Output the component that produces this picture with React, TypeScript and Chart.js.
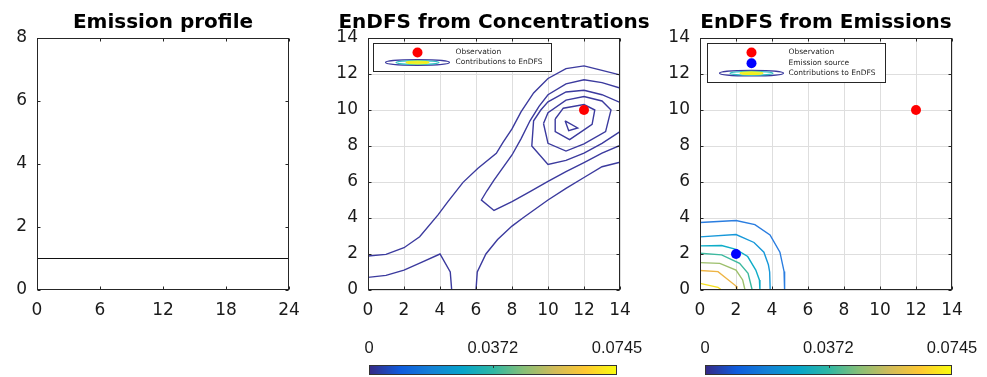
import React, { useEffect, useRef } from 'react';
import { Chart, registerables } from 'chart.js';

Chart.register(...registerables);

type Pt = [number, number];

// ---------------- data ----------------
const profileHours: number[] = [0, 6, 12, 18, 24];
const profileEmission: number[] = [1, 1, 1, 1, 1];

const observationPoint: Pt = [12, 10];
const emissionSourcePoint: Pt = [2, 2];

// EnDFS from Concentrations: contour polylines
const concLevel1Upper: Pt[] = [[0, 1.89], [1, 1.98], [2, 2.35], [2.87, 2.96], [3.89, 4.17], [4.44, 4.91], [5.28, 5.98], [6.11, 6.76], [7.13, 7.59], [7.5, 8.2], [8, 8.95], [8.5, 9.9], [9.2, 10.95], [10, 11.75], [11, 12.3], [12, 12.45], [13, 12.2], [14, 11.95]];
const concLevel1Lower: Pt[] = [[6, 0], [6.07, 1.0], [6.55, 2.0], [7.2, 2.8], [8, 3.55], [8.6, 4.0], [10, 5.0], [11, 5.65], [12, 6.25], [13, 6.85], [14, 7.1]];
const concLevel1Corner: Pt[] = [[0, 0.7], [1, 0.81], [2, 1.1], [3, 1.55], [4, 2.0], [4.57, 1.0], [4.65, 0]];
const concLevel2: Pt[] = [[14, 8.03], [13, 7.6], [12, 7.08], [11, 6.58], [10, 6.03], [9, 5.47], [8, 4.91], [7, 4.42], [6.3, 5.0], [6.6, 5.5], [7, 6.1], [8, 7.5], [8.5, 8.4], [9, 9.4], [9.5, 10.2], [10, 10.85], [11, 11.45], [12, 11.68], [13, 11.52], [14, 11.22]];
const concLevel3: Pt[] = [[14, 10.42], [13, 10.85], [12, 11.1], [11, 11.0], [10, 10.45], [9.6, 10.0], [9.2, 9.4], [9.1, 8.0], [10, 6.97], [11, 7.2], [12, 7.6], [13, 8.15], [14, 8.8]];
const concLevel4: Pt[] = [[9.75, 9.25], [10, 9.85], [11, 10.55], [12, 10.75], [13, 10.5], [13.5, 10.0], [13.2, 8.8], [12, 8.12], [11, 7.72], [10, 8.15], [9.75, 9.25]];
const concLevel5: Pt[] = [[10.4, 9.5], [10.85, 10.1], [12, 10.3], [12.6, 10.0], [12.45, 9.2], [12, 8.9], [11.2, 8.35], [10.4, 8.8], [10.4, 9.5]];
const concLevel6: Pt[] = [[10.95, 9.4], [11.65, 9.0], [11.15, 8.85], [10.95, 9.4]];

// EnDFS from Emissions: contour polylines (outer to inner)
const emisLevel1: Pt[] = [[0, 3.75], [2, 3.86], [3.05, 3.63], [3.89, 3.06], [4.44, 2.1], [4.67, 1.03], [4.7, 0]];
const emisLevel2: Pt[] = [[0, 2.95], [2, 3.08], [3, 2.64], [3.55, 2.1], [3.8, 1.4], [3.87, 1.0], [3.9, 0]];
const emisLevel3: Pt[] = [[0, 2.45], [1.2, 2.47], [2, 2.26], [2.65, 1.86], [3.1, 1.11], [3.3, 0.56], [3.33, 0]];
const emisLevel4: Pt[] = [[0, 2.04], [1.2, 1.95], [2.2, 1.48], [2.67, 0.93], [2.9, 0]];
const emisLevel5: Pt[] = [[0, 1.52], [1.1, 1.48], [2, 1.11], [2.37, 0.56], [2.5, 0]];
const emisLevel6: Pt[] = [[0, 1.08], [1, 1.02], [2, 0.22], [2.05, 0]];
const emisLevel7: Pt[] = [[0, 0.37], [1, 0.15], [1.2, 0]];

const colorbarTicks: number[] = [0, 0.0372, 0.0745];
const colorbarLabels: string[] = ['0', '0.0372', '0.0745'];

// ---------------- styles ----------------
const FONT = "'DejaVu Sans', sans-serif";
const W = 987;
const H = 377;
const AXIS_W = 30;
const AXIS_H = 30;
const FRAME = '#262626';
const CONC_COLOR = '#3b3a9e';
const EMIS_COLORS = ['#2a7de0', '#1798d9', '#0fadc8', '#3cb99f', '#9cbf6b', '#eeb444', '#f6e020'];
const PARULA = ['#352a87', '#0f5cdd', '#1481d6', '#06a4ca', '#2eb7a4', '#87bf77', '#d1bb59', '#fec832', '#f9fb0e'];

interface Box { left: number; top: number; right: number; bottom: number; }
const P1: Box = { left: 37, top: 38, right: 289, bottom: 290 };
const P2: Box = { left: 368, top: 38, right: 620, bottom: 290 };
const P3: Box = { left: 700, top: 38, right: 952, bottom: 290 };

const toXY = (pts: Pt[]) => pts.map(([x, y]) => ({ x, y }));

const frameTicks = {
  id: 'frameTicks',
  afterDatasetsDraw(chart: any) {
    const { ctx, chartArea: a, scales } = chart;
    ctx.save();
    ctx.strokeStyle = FRAME;
    ctx.lineWidth = 1;
    ctx.beginPath();
    const L = Math.round(a.left) + 0.5, R = Math.round(a.right) - 0.5;
    const T = Math.round(a.top) + 0.5, B = Math.round(a.bottom) - 0.5;
    scales.x.ticks.forEach((t: any) => {
      const px = Math.round(scales.x.getPixelForValue(t.value)) + 0.5;
      ctx.moveTo(px, B); ctx.lineTo(px, B - 3);
      ctx.moveTo(px, T); ctx.lineTo(px, T + 3);
    });
    scales.y.ticks.forEach((t: any) => {
      const py = Math.round(scales.y.getPixelForValue(t.value)) + 0.5;
      ctx.moveTo(L, py); ctx.lineTo(L + 3, py);
      ctx.moveTo(R, py); ctx.lineTo(R - 3, py);
    });
    ctx.stroke();
    ctx.strokeRect(L, T, R - L, B - T);
    ctx.restore();
  },
};

interface LegendItem { kind: 'dot' | 'contour'; color?: string; label: string; }
interface LegendCfg { dx: number; dy: number; w: number; h: number; markerX: number; textX: number; rowY: number[]; items: LegendItem[]; }

function makeLegend(cfg: LegendCfg) {
  return {
    id: 'insetLegend',
    afterDraw(chart: any) {
      const { ctx, chartArea: a } = chart;
      const x0 = Math.round(a.left + cfg.dx) + 0.5;
      const y0 = Math.round(a.top + cfg.dy) + 0.5;
      ctx.save();
      ctx.fillStyle = '#ffffff';
      ctx.fillRect(x0, y0, cfg.w, cfg.h);
      ctx.strokeStyle = FRAME;
      ctx.lineWidth = 1;
      ctx.strokeRect(x0, y0, cfg.w, cfg.h);
      cfg.items.forEach((it, i) => {
        const y = y0 + cfg.rowY[i];
        const mx = x0 + cfg.markerX;
        if (it.kind === 'dot') {
          ctx.fillStyle = it.color;
          ctx.beginPath();
          ctx.arc(mx, y, 5, 0, Math.PI * 2);
          ctx.fill();
        } else {
          const rings: [number, number, string][] = [[32, 2.8, CONC_COLOR], [21.5, 1.9, '#2fc0c0'], [11.5, 1.3, '#f2f01e']];
          rings.forEach(([rx, ry, c]) => {
            ctx.strokeStyle = c;
            ctx.lineWidth = 1.2;
            ctx.beginPath();
            ctx.ellipse(mx, y, rx, ry, 0, 0, Math.PI * 2);
            ctx.stroke();
          });
          ctx.fillStyle = '#f2f01e';
          ctx.beginPath();
          ctx.ellipse(mx, y, 11, 1.1, 0, 0, Math.PI * 2);
          ctx.fill();
        }
        ctx.fillStyle = FRAME;
        ctx.font = `7.5px ${FONT}`;
        ctx.textBaseline = 'middle';
        ctx.textAlign = 'left';
        ctx.fillText(it.label, x0 + cfg.textX, y);
      });
      ctx.restore();
    },
  };
}

function axis(min: number, max: number, step: number, grid: boolean, isX: boolean) {
  return {
    type: 'linear',
    min,
    max,
    ticks: {
      stepSize: step,
      color: '#1a1a1a',
      font: { family: FONT, size: 17 },
      padding: isX ? 10 : 10,
      maxRotation: 0,
      autoSkip: false,
    },
    grid: { display: grid, color: '#dedede', lineWidth: 1, drawTicks: false },
    border: { display: false },
    afterFit: (s: any) => {
      if (isX) s.height = AXIS_H; else s.width = AXIS_W;
    },
  };
}

function baseOptions(b: Box, xmin: number, xmax: number, xstep: number, ymin: number, ymax: number, ystep: number, grid: boolean) {
  return {
    responsive: false,
    maintainAspectRatio: false,
    animation: false,
    devicePixelRatio: 1,
    events: [],
    layout: { padding: { left: b.left - AXIS_W, top: b.top, right: W - b.right, bottom: H - b.bottom - AXIS_H } },
    plugins: { legend: { display: false }, tooltip: { enabled: false }, title: { display: false } },
    scales: { x: axis(xmin, xmax, xstep, grid, true), y: axis(ymin, ymax, ystep, grid, false) },
  };
}

const lineDs = (label: string, pts: Pt[], color: string, width = 1.4) => ({
  label,
  data: toXY(pts),
  showLine: true,
  borderColor: color,
  borderWidth: width,
  pointRadius: 0,
  fill: false,
  tension: 0,
});

const dotDs = (label: string, p: Pt, color: string) => ({
  label,
  data: [{ x: p[0], y: p[1] }],
  showLine: false,
  pointRadius: 5,
  pointBackgroundColor: color,
  pointBorderWidth: 0,
  backgroundColor: color,
});

function useChart(ref: React.RefObject<HTMLCanvasElement>, make: () => any) {
  useEffect(() => {
    if (!ref.current) return;
    const chart = new Chart(ref.current, make());
    return () => chart.destroy();
  }, []);
}

const canvasStyle: React.CSSProperties = { position: 'absolute', left: 0, top: 0 };

function Title({ text, b }: { text: string; b: Box }) {
  const c = (b.left + b.right) / 2;
  return (
    <div style={{ position: 'absolute', left: c - 250, width: 500, top: 11, textAlign: 'center', fontFamily: FONT, fontWeight: 'bold', fontSize: 20, lineHeight: '20px', whiteSpace: 'nowrap', color: '#000' }}>{text}</div>
  );
}

function Colorbar({ left, width }: { left: number; width: number }) {
  const min = colorbarTicks[0];
  const max = colorbarTicks[colorbarTicks.length - 1];
  const grad = `linear-gradient(to right, ${PARULA.map((c, i) => `${c} ${(i / (PARULA.length - 1)) * 100}%`).join(', ')})`;
  return (
    <>
      {colorbarTicks.map((v, i) => {
        const px = left + ((v - min) / (max - min)) * width;
        return (
          <div key={i} style={{ position: 'absolute', left: px - 60, width: 120, top: 338, textAlign: 'center', fontFamily: "'Liberation Sans', Arial, sans-serif", fontSize: 16.5, lineHeight: '18px', color: '#1a1a1a' }}>{colorbarLabels[i]}</div>
        );
      })}
      <div style={{ position: 'absolute', left, top: 365, width, height: 10, boxSizing: 'border-box', border: '1px solid #333', background: grad }} />
      <div style={{ position: 'absolute', left: left + width / 2, top: 366, width: 1, height: 2, background: '#333' }} />
    </>
  );
}

export default function App() {
  const r1 = useRef<HTMLCanvasElement>(null);
  const r2 = useRef<HTMLCanvasElement>(null);
  const r3 = useRef<HTMLCanvasElement>(null);

  useChart(r1, () => ({
    type: 'scatter',
    data: {
      datasets: [lineDs('Emission profile', profileHours.map((h, i) => [h, profileEmission[i]] as Pt), '#111111', 1.1)],
    },
    options: baseOptions(P1, 0, 24, 6, 0, 8, 2, false),
    plugins: [frameTicks],
  }));

  useChart(r2, () => ({
    type: 'scatter',
    data: {
      datasets: [
        dotDs('Observation', observationPoint, '#ff0000'),
        lineDs('Contributions to EnDFS', concLevel1Upper, CONC_COLOR),
        lineDs('c1b', concLevel1Lower, CONC_COLOR),
        lineDs('c1c', concLevel1Corner, CONC_COLOR),
        lineDs('c2', concLevel2, CONC_COLOR),
        lineDs('c3', concLevel3, CONC_COLOR),
        lineDs('c4', concLevel4, CONC_COLOR),
        lineDs('c5', concLevel5, CONC_COLOR),
        lineDs('c6', concLevel6, CONC_COLOR),
      ],
    },
    options: baseOptions(P2, 0, 14, 2, 0, 14, 2, true),
    plugins: [
      frameTicks,
      makeLegend({
        dx: 5, dy: 5, w: 178, h: 28, markerX: 44, textX: 82, rowY: [9, 19],
        items: [
          { kind: 'dot', color: '#ff0000', label: 'Observation' },
          { kind: 'contour', label: 'Contributions to EnDFS' },
        ],
      }),
    ],
  }));

  useChart(r3, () => ({
    type: 'scatter',
    data: {
      datasets: [
        dotDs('Observation', observationPoint, '#ff0000'),
        dotDs('Emission source', emissionSourcePoint, '#0000ff'),
        ...[emisLevel1, emisLevel2, emisLevel3, emisLevel4, emisLevel5, emisLevel6, emisLevel7].map((pts, i) =>
          lineDs(`level ${i + 1}`, pts, EMIS_COLORS[i])
        ),
      ],
    },
    options: baseOptions(P3, 0, 14, 2, 0, 14, 2, true),
    plugins: [
      frameTicks,
      makeLegend({
        dx: 7, dy: 5, w: 178, h: 39, markerX: 44, textX: 81, rowY: [9, 19.7, 29.7],
        items: [
          { kind: 'dot', color: '#ff0000', label: 'Observation' },
          { kind: 'dot', color: '#0000ff', label: 'Emission source' },
          { kind: 'contour', label: 'Contributions to EnDFS' },
        ],
      }),
    ],
  }));

  return (
    <div style={{ position: 'fixed', left: 0, top: 0, width: W, height: H, background: '#ffffff', overflow: 'hidden' }}>
      <canvas ref={r1} width={W} height={H} style={canvasStyle} />
      <canvas ref={r2} width={W} height={H} style={canvasStyle} />
      <canvas ref={r3} width={W} height={H} style={canvasStyle} />
      <Title text="Emission profile" b={P1} />
      <Title text="EnDFS from Concentrations" b={P2} />
      <Title text="EnDFS from Emissions" b={P3} />
      <Colorbar left={369} width={248} />
      <Colorbar left={705} width={247} />
    </div>
  );
}
